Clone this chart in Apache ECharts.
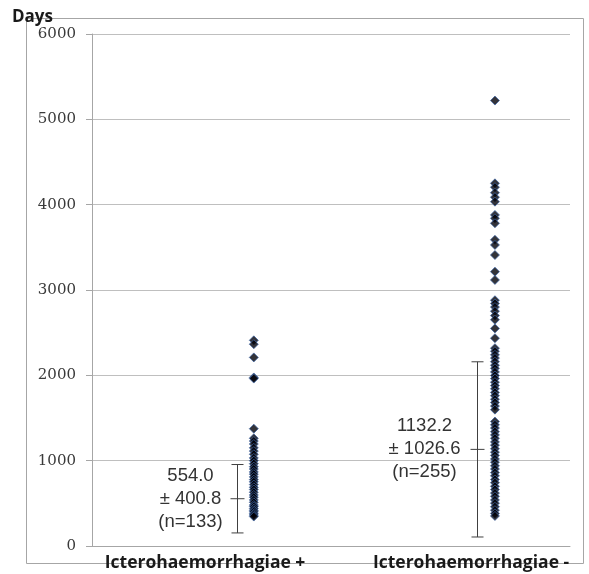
<!DOCTYPE html>
<html>
<head>
<meta charset="utf-8">
<script src="https://cdn.jsdelivr.net/npm/echarts@6/dist/echarts.min.js"></script>
<style>html,body{margin:0;padding:0;background:#fff;}#c{width:589px;height:574px;}</style>
</head>
<body>
<div id="c"></div>
<script>
// ---- data ----
const categories = ['Icterohaemorrhagiae +', 'Icterohaemorrhagiae -'];
const groupPlus = [2410, 2365, 2210, 1975, 1962, 1375, 1262, 1230, 1195, 1150, 1112, 1075, 1032, 1000, 965, 930, 902, 868, 842, 810, 778, 752, 720, 688, 662, 630, 598, 572, 540, 512, 480, 462, 438, 418, 400, 378, 362, 345];
const groupMinus = [5220, 4250, 4205, 4140, 4088, 4035, 3880, 3840, 3782, 3588, 3528, 3410, 3215, 3118, 2880, 2842, 2800, 2752, 2700, 2652, 2550, 2435, 2318, 2282, 2240, 2202, 2160, 2118, 2082, 2040, 1998, 1962, 1920, 1880, 1842, 1800, 1762, 1720, 1682, 1640, 1598, 1458, 1420, 1382, 1340, 1302, 1262, 1220, 1182, 1140, 1100, 1062, 1020, 982, 940, 902, 860, 822, 780, 742, 700, 662, 620, 582, 540, 502, 460, 420, 382, 352];
const means = [554.0, 1132.2];
const sds = [400.8, 1026.6];
const counts = [133, 255];
const yTicks = [0, 1000, 2000, 3000, 4000, 5000, 6000];

// ---- layout constants (positions on hidden x scale 0..2) ----
const pointX = [0.677, 1.686];
const barX = [0.607, 1.611];
const labelX = [0.473, 1.586];
const textOffset = [47, 53];

const chart = echarts.init(document.getElementById('c'), null, {renderer: 'canvas'});

const scatterSeries = [groupPlus, groupMinus].map((arr, i) => ({
  type: 'scatter',
  symbol: 'diamond',
  symbolSize: 9,
  itemStyle: {color: '#000008', borderColor: 'rgba(60,100,165,0.9)', borderWidth: 1},
  data: arr.map(v => [pointX[i], v]),
  z: 3
}));

const errData = means.map((m, i) => [barX[i], m, sds[i], counts[i], i]);

const option = {
  animation: false,
  backgroundColor: '#fff',
  grid: {left: 92, right: 19, top: 34, bottom: 28, containLabel: false, outerBoundsMode: 'none'},
  xAxis: {
    type: 'value', min: 0, max: 2,
    axisLine: {show: true, lineStyle: {color: '#a6a6a6', width: 1}},
    axisTick: {show: false},
    splitLine: {show: false},
    axisLabel: {
      customValues: labelX,
      formatter: (v) => { const k = labelX.findIndex(t => Math.abs(t - v) < 1e-6); return k >= 0 ? categories[k] : ''; },
      margin: 8,
      fontFamily: 'Open Sans', fontWeight: 'bold', fontSize: 17.5, color: '#1a1a1a'
    }
  },
  yAxis: {
    type: 'value', min: 0, max: 6000, interval: 1000,
    axisLine: {show: true, lineStyle: {color: '#a6a6a6', width: 1}},
    axisTick: {show: true, length: 6, inside: false, lineStyle: {color: '#a6a6a6'}},
    splitLine: {show: true, lineStyle: {color: '#bfbfbf', width: 1}},
    axisLabel: {
      margin: 16,
      fontFamily: 'DejaVu Serif', fontSize: 15, color: '#3a3a3a',
      formatter: (v) => yTicks.includes(v) ? String(v) : ''
    }
  },
  graphic: [
    {type: 'rect', shape: {x: 26.5, y: 18.5, width: 557, height: 545}, style: {fill: 'none', stroke: '#a6a6a6', lineWidth: 1}, z: -10, silent: true},
    {type: 'text', left: 12, top: 9, style: {text: 'Days', font: 'bold 17px "Open Sans"', fill: '#1a1a1a'}, z: 10}
  ],
  series: [
    ...scatterSeries,
    {
      type: 'custom',
      data: errData,
      z: 2,
      renderItem: (params, api) => {
        const x = api.value(0), m = api.value(1), s = api.value(2), n = api.value(3), idx = api.value(4);
        const top = api.coord([x, m + s]);
        const bot = api.coord([x, m - s]);
        const mid = api.coord([x, m]);
        const cx = Math.round(top[0]) + 0.5;
        const cap = 6, tick = 7;
        const ls = {stroke: '#404040', lineWidth: 1};
        return {
          type: 'group',
          children: [
            {type: 'line', shape: {x1: cx, y1: top[1], x2: cx, y2: bot[1]}, style: ls},
            {type: 'line', shape: {x1: cx - cap, y1: top[1], x2: cx + cap, y2: top[1]}, style: ls},
            {type: 'line', shape: {x1: cx - cap, y1: bot[1], x2: cx + cap, y2: bot[1]}, style: ls},
            {type: 'line', shape: {x1: cx - tick, y1: mid[1], x2: cx + tick, y2: mid[1]}, style: ls},
            {type: 'text', style: {
              text: m.toFixed(1) + '\n\u00b1 ' + s.toFixed(1) + '\n(n=' + n + ')',
              x: cx - textOffset[idx], y: mid[1],
              align: 'center', verticalAlign: 'middle',
              font: '18.5px "Liberation Sans"', lineHeight: 23, fill: '#333'
            }}
          ]
        };
      }
    }
  ]
};
chart.setOption(option);
</script>
</body>
</html>
